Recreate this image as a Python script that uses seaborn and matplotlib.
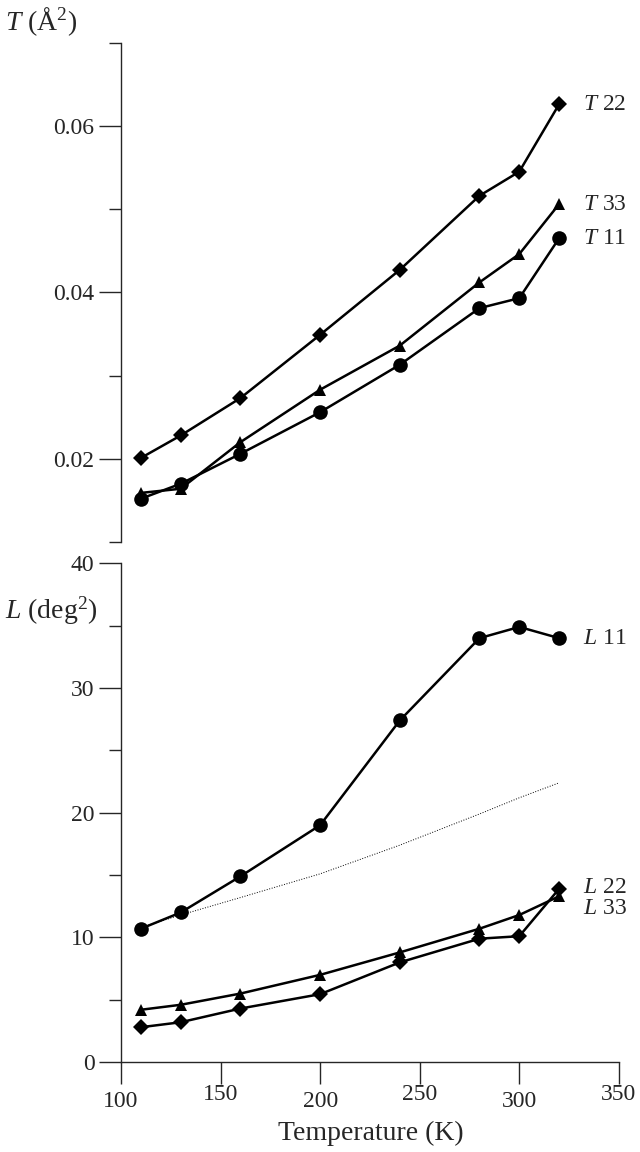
import numpy as np
import pandas as pd
import matplotlib
matplotlib.use('Agg')
import matplotlib.pyplot as plt
import seaborn as sns

# Data
temps = [110, 130, 160, 200, 240, 280, 300, 320]

t11 = [0.0152, 0.0170, 0.0206, 0.0256, 0.0313, 0.0381, 0.0393, 0.0465]
t22 = [0.0201, 0.0228, 0.0273, 0.0349, 0.0427, 0.0516, 0.0545, 0.0626]
t33 = [0.0159, 0.0164, 0.0220, 0.0283, 0.0336, 0.0412, 0.0446, 0.0506]

l11 = [10.7, 12.0, 14.9, 19.0, 27.4, 34.0, 34.9, 34.0]
l22 = [2.8, 3.2, 4.3, 5.45, 8.0, 9.9, 10.1, 13.9]
l33 = [4.2, 4.6, 5.5, 7.0, 8.8, 10.7, 11.8, 13.3]
l_model = [10.8, 11.8, 13.2, 15.1, 17.4, 19.9, 21.2, 22.4]

x_ticks = [100, 150, 200, 250, 300, 350]

sns.set_style('ticks')
plt.rcParams['font.family'] = ['Liberation Serif', 'DejaVu Serif']
plt.rcParams['mathtext.fontset'] = 'custom'
plt.rcParams['mathtext.rm'] = 'Liberation Serif'
plt.rcParams['mathtext.it'] = 'Liberation Serif:italic'

fig = plt.figure(figsize=(6.4, 11.52), dpi=100)
ax_t = fig.add_axes([0.189, 0.5295, 0.778, 0.4335])
ax_l = fig.add_axes([0.189, 0.078, 0.778, 0.433])

lw = 1.8
fs = 17

# top panel: T tensor
for vals, mk, ms in [(t22, 'D', 8), (t33, '^', 9), (t11, 'o', 10.5)]:
    sns.lineplot(x=temps, y=vals, marker=mk, markersize=ms, color='black',
                 linewidth=lw, markeredgewidth=0, ax=ax_t, legend=False)

ax_t.set_xlim(100, 350)
ax_t.set_ylim(0.01, 0.07)
ax_t.set_yticks([0.02, 0.04, 0.06])
ax_t.set_yticklabels(['0.02', '0.04', '0.06'])
ax_t.set_yticks([0.01, 0.03, 0.05, 0.07], minor=True)
ax_t.tick_params(axis='y', which='major', length=16, width=1, labelsize=fs, pad=3)
ax_t.tick_params(axis='y', which='minor', length=8.5, width=1)
ax_t.tick_params(axis='x', bottom=False, labelbottom=False)
for s in ['top', 'right', 'bottom']:
    ax_t.spines[s].set_visible(False)
ax_t.spines['left'].set_linewidth(1)

ax_t.text(332, t22[-1], '$T$ 22', fontsize=fs, va='center', ha='left')
ax_t.text(332, t33[-1], '$T$ 33', fontsize=fs, va='center', ha='left')
ax_t.text(332, t11[-1], '$T$ 11', fontsize=fs, va='center', ha='left')

# bottom panel: L tensor
sns.lineplot(x=temps, y=l_model, color='black', linewidth=0.7, linestyle=':',
             ax=ax_l, legend=False)
for vals, mk, ms in [(l11, 'o', 10.5), (l33, '^', 9), (l22, 'D', 8)]:
    sns.lineplot(x=temps, y=vals, marker=mk, markersize=ms, color='black',
                 linewidth=lw, markeredgewidth=0, ax=ax_l, legend=False)

ax_l.set_xlim(100, 350)
ax_l.set_ylim(0, 40)
ax_l.set_xticks(x_ticks)
ax_l.set_xticklabels([str(v) for v in x_ticks])
ax_l.set_yticks([0, 10, 20, 30, 40])
ax_l.set_yticks([5, 15, 25, 35], minor=True)
ax_l.tick_params(axis='both', which='major', length=16, width=1, labelsize=fs, pad=3)
ax_l.tick_params(axis='both', which='minor', length=8.5, width=1)
# staggered tick labels as in the scan
for i, t in enumerate(ax_l.xaxis.get_major_ticks()):
    t.set_pad(5 if i % 2 == 0 else 0)
for s in ['top', 'right']:
    ax_l.spines[s].set_visible(False)
ax_l.spines['left'].set_linewidth(1)
ax_l.spines['bottom'].set_linewidth(1)

ax_l.text(332, l11[-1], '$L$ 11', fontsize=fs, va='center', ha='left')
ax_l.text(332, 14.0, '$L$ 22', fontsize=fs, va='center', ha='left')
ax_l.text(332, 12.3, '$L$ 33', fontsize=fs, va='center', ha='left')

fig.text(0.008, 0.981, '$T$ (Å$^2$)', fontsize=fs + 3, va='center', ha='left')
fig.text(0.008, 0.470, '$L$ (deg$^2$)', fontsize=fs + 3, va='center', ha='left')
fig.text(0.58, 0.016, 'Temperature (K)', fontsize=fs + 3, va='center', ha='center')

fig.savefig('out.png', dpi=100)
